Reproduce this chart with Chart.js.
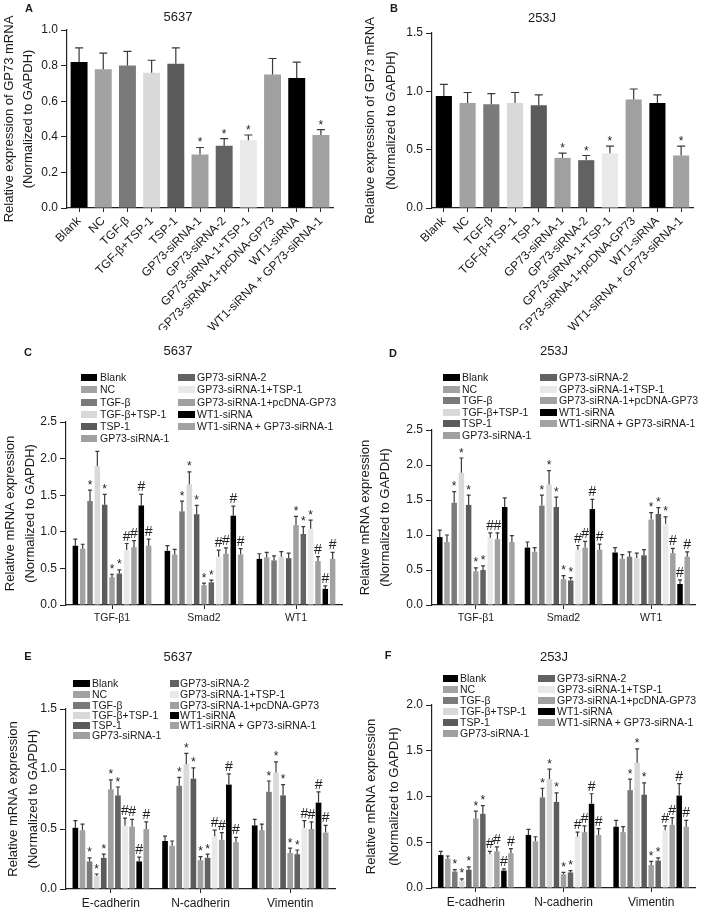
<!DOCTYPE html>
<html><head><meta charset="utf-8">
<script src="https://cdn.jsdelivr.net/npm/chart.js@4.4.1/dist/chart.umd.min.js"></script>
<style>
body{margin:0;width:709px;height:912px;position:relative;overflow:hidden;background:#fff;font-family:"Liberation Sans",Arial,sans-serif;color:#1a1a1a}
canvas{position:absolute}
.ctr{position:absolute;transform:translate(-50%,-50%);white-space:nowrap;font-size:13px}
.let{position:absolute;transform:translate(-50%,-50%);font-weight:bold;font-size:11px}
.sw{position:absolute;height:7px}
.lt{position:absolute;white-space:nowrap;font-size:10.5px;transform:translateY(-50%);line-height:12px}
</style></head><body>
<canvas id="cA" width="355" height="330" style="left:0;top:0"></canvas>
<canvas id="cB" width="354" height="330" style="left:355px;top:0"></canvas>
<canvas id="cC" width="355" height="335" style="left:0;top:290px"></canvas>
<canvas id="cD" width="354" height="335" style="left:355px;top:290px"></canvas>
<canvas id="cE" width="355" height="287" style="left:0;top:625px"></canvas>
<canvas id="cF" width="354" height="287" style="left:355px;top:625px"></canvas>
<div id="overlay"></div>
<script>
// ---------- data ----------
const seriesNames = ['Blank','NC','TGF-β','TGF-β+TSP-1','TSP-1','GP73-siRNA-1','GP73-siRNA-2','GP73-siRNA-1+TSP-1','GP73-siRNA-1+pcDNA-GP73','WT1-siRNA','WT1-siRNA + GP73-siRNA-1'];
const seriesColors = ['#000000','#a2a2a2','#7a7a7a','#d9d9d9','#5b5b5b','#a0a0a0','#626262','#e9e9e9','#a0a0a0','#000000','#a2a2a2'];

// Panel A (5637) GP73 mRNA
const meansA = [0.82,0.78,0.80,0.76,0.81,0.30,0.35,0.38,0.75,0.73,0.41];
const sdA    = [0.08,0.09,0.08,0.07,0.09,0.04,0.04,0.03,0.09,0.09,0.03];
const marksA = ['','','','','','*','*','*','','','*'];
// Panel B (253J) GP73 mRNA
const meansB = [0.96,0.90,0.89,0.90,0.88,0.43,0.41,0.47,0.93,0.90,0.45];
const sdB    = [0.10,0.09,0.09,0.09,0.09,0.04,0.04,0.06,0.09,0.07,0.08];
const marksB = ['','','','','','*','*','*','','','*'];

const genesCD = ['TGF-β1','Smad2','WT1'];
// Panel C (5637), rows = series, cols = genes
const meansC = [[0.81,0.74,0.63],[0.77,0.69,0.65],[1.42,1.28,0.61],[1.90,1.65,0.66],[1.37,1.24,0.64],[0.38,0.27,1.09],[0.43,0.31,0.97],[0.75,0.66,1.04],[0.79,0.70,0.60],[1.36,1.22,0.22],[0.81,0.69,0.63]];
const sdC    = [[0.09,0.07,0.07],[0.06,0.07,0.07],[0.15,0.14,0.06],[0.20,0.17,0.07],[0.14,0.12,0.07],[0.04,0.03,0.12],[0.05,0.03,0.10],[0.09,0.09,0.12],[0.09,0.08,0.06],[0.15,0.13,0.04],[0.09,0.08,0.09]];
const marksC = [['','',''],['','',''],['*','*',''],['','*',''],['*','*',''],['*','*','*'],['*','*','*'],['#','#','*'],['#','#','#'],['#','#','#'],['#','#','#']];
// Panel D (253J)
const meansD = [[0.97,0.82,0.75],[0.90,0.76,0.66],[1.46,1.42,0.69],[1.89,1.72,0.67],[1.43,1.40,0.71],[0.48,0.37,1.22],[0.50,0.35,1.30],[0.96,0.79,1.16],[0.94,0.82,0.74],[1.40,1.37,0.30],[0.90,0.79,0.69]];
const sdD    = [[0.10,0.08,0.07],[0.10,0.06,0.06],[0.16,0.15,0.07],[0.21,0.20,0.07],[0.14,0.14,0.08],[0.05,0.05,0.10],[0.06,0.04,0.09],[0.07,0.06,0.10],[0.09,0.09,0.07],[0.13,0.14,0.06],[0.09,0.08,0.07]];
const marksD = [['','',''],['','',''],['*','*',''],['*','*',''],['*','*',''],['*','*','*'],['*','*','*'],['#','#','*'],['#','#','#'],['','#','#'],['','#','#']];

const genesEF = ['E-cadherin','N-cadherin','Vimentin'];
// Panel E (5637)
const meansE = [[0.51,0.40,0.53],[0.49,0.36,0.49],[0.23,0.86,0.81],[0.11,1.04,0.97],[0.26,0.92,0.78],[0.83,0.24,0.30],[0.78,0.26,0.29],[0.53,0.44,0.51],[0.52,0.41,0.50],[0.23,0.87,0.72],[0.50,0.39,0.47]];
const sdE    = [[0.06,0.04,0.05],[0.05,0.04,0.05],[0.03,0.07,0.09],[0.015,0.09,0.09],[0.03,0.09,0.09],[0.08,0.03,0.04],[0.07,0.03,0.035],[0.06,0.05,0.06],[0.06,0.06,0.06],[0.035,0.09,0.09],[0.06,0.04,0.06]];
const marksE = [['','',''],['','',''],['*','*','*'],['*','*','*'],['*','*','*'],['*','*','*'],['*','*','*'],['#','#','#'],['#','#','#'],['#','#','#'],['#','#','#']];
// Panel F (253J)
const meansF = [[0.36,0.58,0.67],[0.32,0.51,0.61],[0.18,0.99,1.07],[0.08,1.19,1.37],[0.20,0.94,1.02],[0.76,0.15,0.25],[0.81,0.17,0.30],[0.37,0.56,0.63],[0.40,0.61,0.69],[0.19,0.92,1.01],[0.38,0.58,0.67]];
const sdF    = [[0.04,0.06,0.07],[0.03,0.05,0.06],[0.02,0.10,0.12],[0.02,0.11,0.15],[0.03,0.10,0.13],[0.08,0.02,0.04],[0.09,0.02,0.03],[0.03,0.05,0.05],[0.05,0.07,0.08],[0.02,0.11,0.13],[0.05,0.07,0.07]];
const marksF = marksE;

// ---------- plugin: one-sided error bars + significance marks ----------
const errPlugin = {
  id: 'errbars',
  afterDatasetsDraw(chart, args, o) {
    const ctx = chart.ctx, y = chart.scales.y;
    ctx.save();
    chart.data.datasets.forEach((ds, i) => {
      const meta = chart.getDatasetMeta(i);
      meta.data.forEach((bar, j) => {
        const v = ds.data[j], e = o.sd[i][j];
        const yb = y.getPixelForValue(v), yt = y.getPixelForValue(v + e);
        ctx.strokeStyle = '#3a3a3a'; ctx.lineWidth = o.lw;
        ctx.beginPath();
        ctx.moveTo(bar.x, yb); ctx.lineTo(bar.x, yt);
        ctx.moveTo(bar.x - o.cap / 2, yt); ctx.lineTo(bar.x + o.cap / 2, yt);
        ctx.stroke();
        const m = o.marks[i][j];
        if (m) {
          ctx.fillStyle = '#222';
          ctx.textAlign = 'center'; ctx.textBaseline = 'alphabetic';
          if (m === '*') { ctx.font = o.starSize + 'px "Liberation Sans", Arial'; ctx.fillText(m, bar.x, yt - o.starGap); }
          else { ctx.font = o.hashSize + 'px "Liberation Sans", Arial'; ctx.fillText(m, bar.x, yt - o.hashGap); }
        }
      });
    });
    ctx.restore();
  }
};

function makeChart(id, o) {
  const cv = document.getElementById(id);
  const W = cv.width, H = cv.height;
  const axisCol = '#222';
  return new Chart(cv, {
    type: 'bar',
    data: { labels: o.labels, datasets: o.datasets },
    options: {
      responsive: false, animation: false, devicePixelRatio: 1,
      layout: { padding: { left: 0, top: o.area.top, right: W - o.area.right, bottom: 0 } },
      plugins: { legend: { display: false }, tooltip: { enabled: false },
        errbars: { sd: o.sd, marks: o.marks, cap: o.cap, lw: 1.2, starSize: o.starSize || 12, hashSize: o.hashSize || 14, starGap: o.starGap || 1.5, hashGap: o.hashGap || 3 } },
      scales: {
        x: {
          grid: { display: true, drawOnChartArea: false, offset: false, tickLength: 4, color: axisCol, lineWidth: 1 },
          border: { color: axisCol, width: 1.2 },
          ticks: { autoSkip: false, minRotation: o.rot, maxRotation: o.rot, padding: o.xPad, color: '#1a1a1a', font: { family: '"Liberation Sans", Arial', size: o.xFont } },
          afterFit: s => { s.height = H - o.area.bottom; }
        },
        y: {
          min: 0, max: o.max,
          grid: { display: true, drawOnChartArea: false, tickLength: 6, color: axisCol, lineWidth: 1 },
          border: { color: axisCol, width: 1.2 },
          ticks: { stepSize: o.step, padding: 3, color: '#1a1a1a', font: { family: '"Liberation Sans", Arial', size: 12 }, callback: v => Number(v).toFixed(1) },
          title: { display: true, text: o.yTitle, color: '#1a1a1a', font: { family: '"Liberation Sans", Arial', size: 13, lineHeight: o.titleLH + 'px' }, padding: { top: o.titlePad, bottom: 0 } },
          afterFit: s => { s.width = o.area.left; }
        }
      }
    },
    plugins: [errPlugin]
  });
}

function singleSet(means, bp) {
  return [{ data: means, backgroundColor: seriesColors, barPercentage: bp, categoryPercentage: 1.0 }];
}
function groupSets(means, bp, cp) {
  return seriesNames.map((n, i) => ({ label: n, data: means[i], backgroundColor: seriesColors[i], barPercentage: bp, categoryPercentage: cp }));
}

const yTitleAB = ['Relative expression of GP73 mRNA', '(Normalized to GAPDH)'];
const yTitleCF = ['Relative mRNA expression', '(Normalized to GAPDH)'];

makeChart('cA', { labels: seriesNames, datasets: singleSet(meansA, 0.7), sd: [sdA], marks: [marksA], cap: 8,
  area: { left: 67, right: 333, top: 30, bottom: 208 }, max: 1.0, step: 0.2, rot: 45, xPad: 2, xFont: 12,
  yTitle: yTitleAB, titleLH: 19, titlePad: 0, starSize: 12, starGap: 1 });
makeChart('cB', { labels: seriesNames, datasets: singleSet(meansB, 0.68), sd: [sdB], marks: [marksB], cap: 8,
  area: { left: 77, right: 338, top: 33, bottom: 208 }, max: 1.5, step: 0.5, rot: 45, xPad: 2, xFont: 12,
  yTitle: yTitleAB, titleLH: 21, titlePad: 5, starSize: 12, starGap: 1 });
makeChart('cC', { labels: genesCD, datasets: groupSets(meansC, 0.75, 0.876), sd: sdC, marks: marksC, cap: 4,
  area: { left: 66, right: 342, top: 132, bottom: 315 }, max: 2.5, step: 0.5, rot: 0, xPad: 3, xFont: 10.5,
  yTitle: yTitleCF, titleLH: 20, titlePad: 0 });
makeChart('cD', { labels: genesCD, datasets: groupSets(meansD, 0.76, 0.905), sd: sdD, marks: marksD, cap: 4,
  area: { left: 77, right: 340, top: 140, bottom: 315 }, max: 2.5, step: 0.5, rot: 0, xPad: 3, xFont: 10.5,
  yTitle: yTitleCF, titleLH: 20, titlePad: 0 });
makeChart('cE', { labels: genesEF, datasets: groupSets(meansE, 0.8, 0.87), sd: sdE, marks: marksE, cap: 4,
  area: { left: 66, right: 335, top: 84, bottom: 264 }, max: 1.5, step: 0.5, rot: 0, xPad: 3, xFont: 12,
  yTitle: yTitleCF, titleLH: 20, titlePad: 3 });
makeChart('cF', { labels: genesEF, datasets: groupSets(meansF, 0.78, 0.88), sd: sdF, marks: marksF, cap: 4,
  area: { left: 77, right: 340, top: 80, bottom: 263 }, max: 2.0, step: 0.5, rot: 0, xPad: 3, xFont: 12,
  yTitle: yTitleCF, titleLH: 23, titlePad: 5 });

// ---------- panel letters, titles, legends (HTML text) ----------
const ov = document.getElementById('overlay');
function add(cls, txt, x, y) { const d = document.createElement('div'); d.className = cls; d.textContent = txt; d.style.left = x + 'px'; d.style.top = y + 'px'; ov.appendChild(d); }
[['A',29,8],['B',394,8],['C',28,352],['D',393,353],['E',28,656],['F',388,655]].forEach(a => add('let', a[0], a[1], a[2]));
[['5637',178,16],['253J',542,17],['5637',178,350],['253J',554,350],['5637',178,656],['253J',554,656]].forEach(a => add('ctr', a[0], a[1], a[2]));

function legend(cfg) {
  seriesNames.forEach((n, i) => {
    const col = i < 6 ? cfg.L : cfg.R;
    const y = cfg.rows[i < 6 ? i : i - 6];
    const s = document.createElement('div'); s.className = 'sw';
    s.style.left = col.sx + 'px'; s.style.width = col.sw + 'px'; s.style.top = (y - 3.5) + 'px'; s.style.background = seriesColors[i];
    ov.appendChild(s);
    add('lt', n, col.tx, y);
  });
}
legend({ L: { sx: 81, sw: 16, tx: 100 }, R: { sx: 178, sw: 17, tx: 197 }, rows: [377, 389, 402, 414, 426, 438] });
legend({ L: { sx: 443, sw: 17, tx: 462 }, R: { sx: 540, sw: 17, tx: 559 }, rows: [377, 389, 400, 412, 423, 435] });
legend({ L: { sx: 73, sw: 17, tx: 92 }, R: { sx: 170, sw: 9, tx: 180 }, rows: [683, 694, 705, 715, 725, 735] });
legend({ L: { sx: 443, sw: 15, tx: 460 }, R: { sx: 538, sw: 17, tx: 557 }, rows: [678, 689, 700, 711, 722, 733] });
</script>
</body></html>
